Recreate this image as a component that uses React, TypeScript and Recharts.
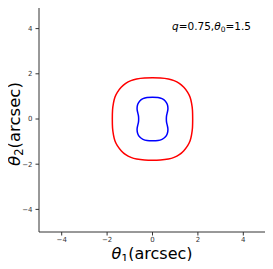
import { LineChart, Line, XAxis, YAxis, Label } from "recharts";

// critical curve (red), theta1 / theta2 in arcsec
const redTheta1 = [
  1.77, 1.76, 1.72, 1.66, 1.55, 1.38, 1.18, 0.95, 0.7, 0.35, 0,
  -0.35, -0.7, -0.95, -1.18, -1.38, -1.55, -1.66, -1.72, -1.76, -1.77,
  -1.76, -1.72, -1.66, -1.55, -1.38, -1.18, -0.95, -0.7, -0.35, 0,
  0.35, 0.7, 0.95, 1.18, 1.38, 1.55, 1.66, 1.72, 1.76, 1.77,
];
const redTheta2 = [
  0, 0.4, 0.7, 0.95, 1.18, 1.4, 1.58, 1.7, 1.77, 1.81, 1.82,
  1.81, 1.77, 1.7, 1.58, 1.4, 1.18, 0.95, 0.7, 0.4, 0,
  -0.4, -0.7, -0.95, -1.18, -1.4, -1.58, -1.7, -1.77, -1.81, -1.82,
  -1.81, -1.77, -1.7, -1.58, -1.4, -1.18, -0.95, -0.7, -0.4, 0,
];

// caustic (blue)
const blueTheta1 = [
  0.61, 0.62, 0.66, 0.68, 0.65, 0.56, 0.42, 0.24, 0,
  -0.24, -0.42, -0.56, -0.65, -0.68, -0.66, -0.62, -0.61,
  -0.62, -0.66, -0.68, -0.65, -0.56, -0.42, -0.24, 0,
  0.24, 0.42, 0.56, 0.65, 0.68, 0.66, 0.62, 0.61,
];
const blueTheta2 = [
  0, 0.15, 0.32, 0.48, 0.65, 0.8, 0.9, 0.95, 0.96,
  0.95, 0.9, 0.8, 0.65, 0.48, 0.32, 0.15, 0,
  -0.15, -0.32, -0.48, -0.65, -0.8, -0.9, -0.95, -0.96,
  -0.95, -0.9, -0.8, -0.65, -0.48, -0.32, -0.15, 0,
];

const ticks = [-4, -2, 0, 2, 4];
const lim = 5;

// top and right spines, corner points at the axis limits
const spineTheta1 = [-lim, lim, lim];
const spineTheta2 = [lim, lim, -lim];

const red = redTheta1.map((x, i) => ({ x, y: redTheta2[i] }));
const blue = blueTheta1.map((x, i) => ({ x, y: blueTheta2[i] }));
const spine = spineTheta1.map((x, i) => ({ x, y: spineTheta2[i] }));

const font = "DejaVu Sans";
const fmt = (v: number) => String(v).replace("-", "\u2212");
const tickStyle = { fontSize: 7, fill: "#333", fontFamily: font };

export default function App() {
  return (
    <div style={{ margin: -8, width: 273, height: 269, background: "#fff" }}>
      <LineChart width={273} height={269} margin={{ top: 6, right: 7, bottom: 0, left: 0 }}>
        <XAxis
          type="number"
          dataKey="x"
          domain={[-lim, lim]}
          ticks={ticks}
          allowDataOverflow
          height={37}
          tick={tickStyle}
          tickFormatter={fmt}
          tickSize={3.5}
          tickMargin={2}
          stroke="#333"
        >
          <Label
            content={() => (
              <text x={152} y={259} textAnchor="middle" fontFamily={font} fontSize={16} fill="#000">
                <tspan fontStyle="italic">θ</tspan>
                <tspan fontSize={11} dy={3}>1</tspan>
                <tspan dy={-3}>(arcsec)</tspan>
              </text>
            )}
          />
        </XAxis>
        <YAxis
          type="number"
          dataKey="y"
          domain={[-lim, lim]}
          ticks={ticks}
          allowDataOverflow
          width={39}
          tick={tickStyle}
          tickFormatter={fmt}
          tickSize={3.5}
          tickMargin={3}
          stroke="#333"
        >
          <Label
            content={() => (
              <g>
                <text
                  x={20}
                  y={124}
                  textAnchor="middle"
                  fontFamily={font}
                  fontSize={16.5}
                  fill="#000"
                  transform="rotate(-90 20 124)"
                >
                  <tspan fontStyle="italic">θ</tspan>
                  <tspan fontSize={11.5} dy={3}>2</tspan>
                  <tspan dy={-3}>(arcsec)</tspan>
                </text>
                <text x={172} y={30} fontFamily={font} fontSize={10.5} fill="#000">
                  <tspan fontStyle="italic">q</tspan>
                  <tspan>=0.75,</tspan>
                  <tspan fontStyle="italic">θ</tspan>
                  <tspan fontSize={7.5} dy={2}>0</tspan>
                  <tspan dy={-2}>=1.5</tspan>
                </text>
              </g>
            )}
          />
        </YAxis>
        <Line
          data={spine}
          dataKey="y"
          type="linear"
          stroke="#333"
          strokeWidth={2}
          dot={false}
          activeDot={false}
          isAnimationActive={false}
        />
        <Line
          data={red}
          dataKey="y"
          type="natural"
          stroke="#ff0000"
          strokeWidth={1.5}
          dot={false}
          isAnimationActive={false}
        />
        <Line
          data={blue}
          dataKey="y"
          type="natural"
          stroke="#0000ff"
          strokeWidth={1.5}
          dot={false}
          isAnimationActive={false}
        />
      </LineChart>
    </div>
  );
}
